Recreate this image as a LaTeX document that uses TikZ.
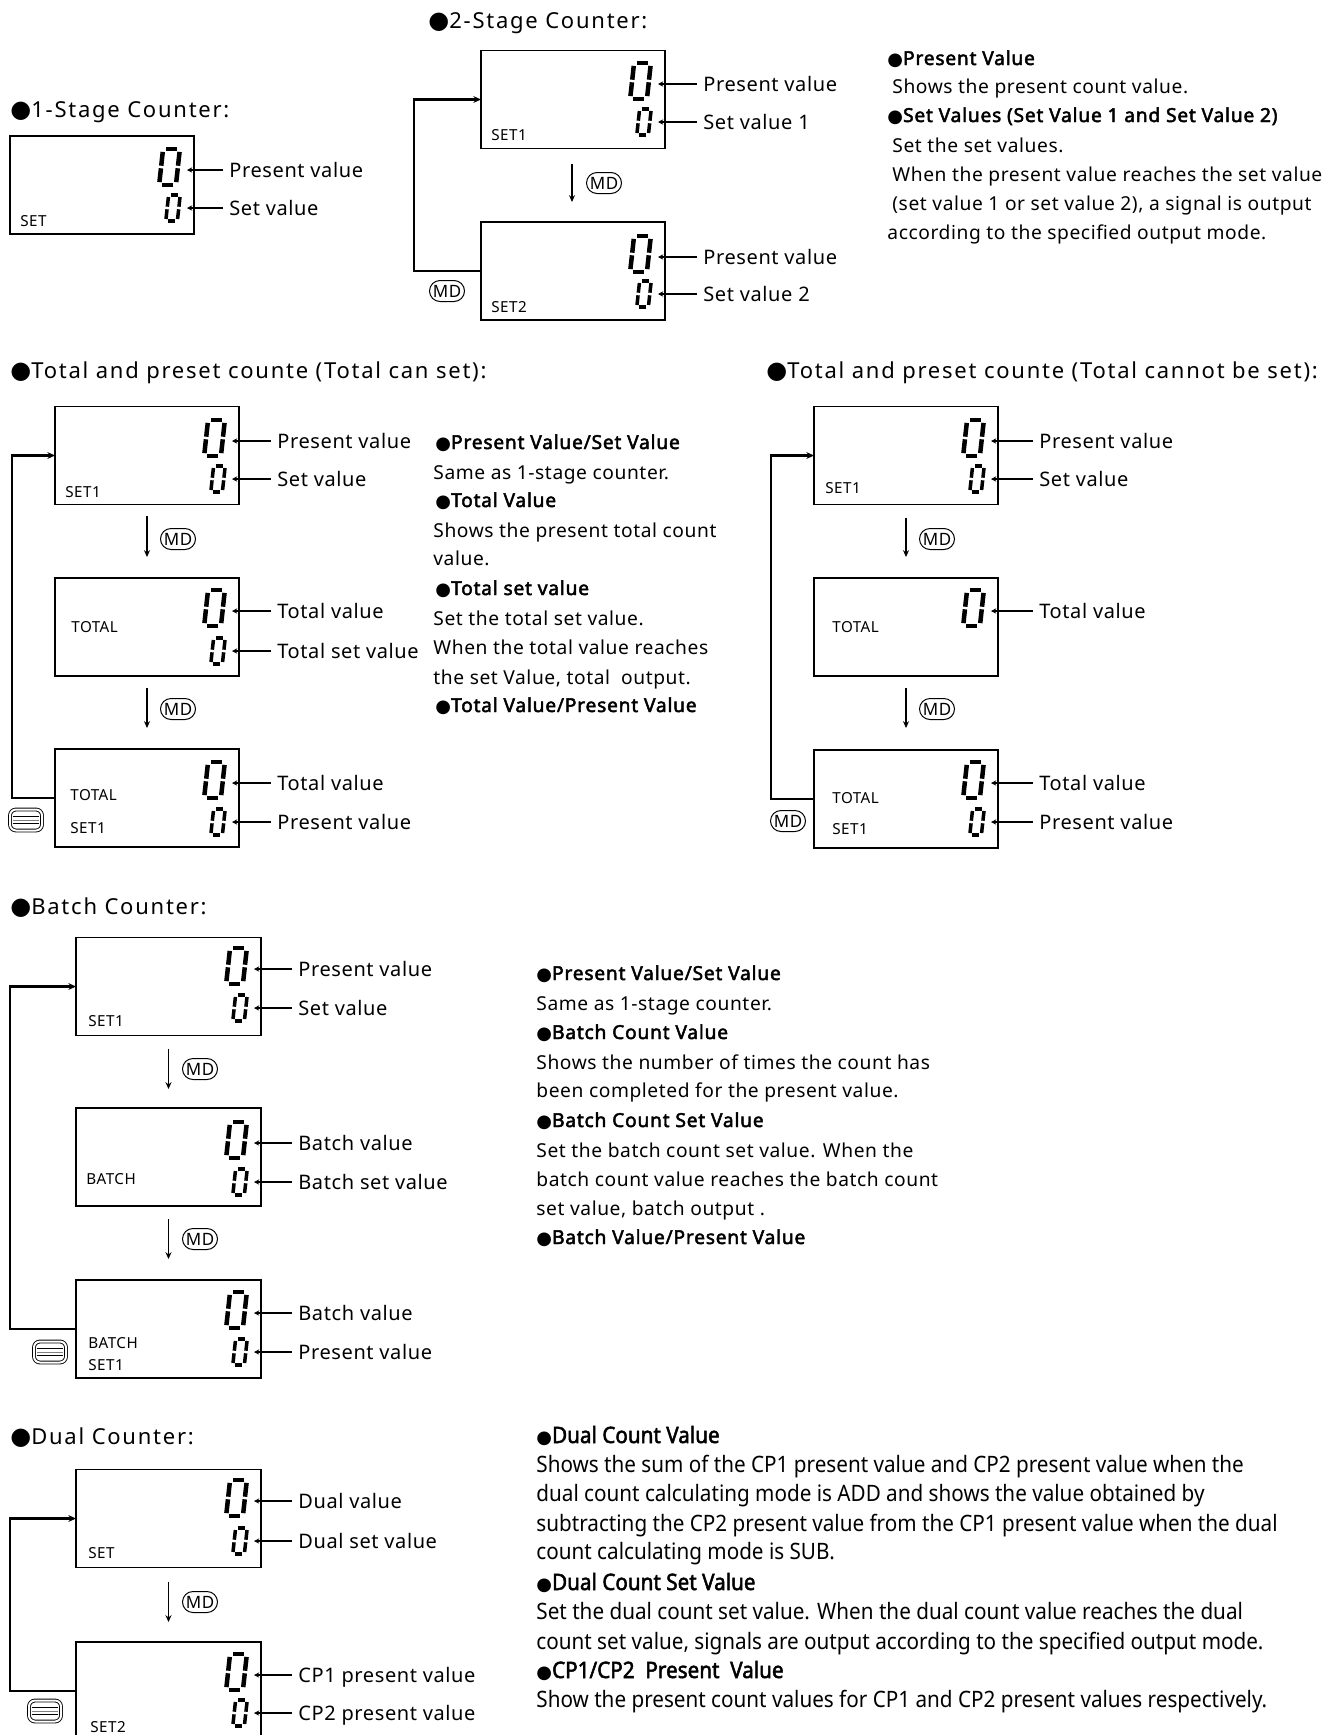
\documentclass[tikz,border=0pt]{standalone}
\usepackage{fontspec}
\setmainfont{Noto Sans}
\newfontfamily\symf{DejaVu Sans}
\newfontfamily\condf{Noto Sans}[FakeStretch=0.915]
\newfontfamily\condbf{Noto Sans}[FakeStretch=0.915,FakeBold=2.2]
\newfontfamily\spacedf{Noto Sans}[LetterSpace=8]
\newfontfamily\lblf{Noto Sans}[LetterSpace=3]
\newfontfamily\parf{Noto Sans}[LetterSpace=3]
\newfontfamily\hdf{Noto Sans}[LetterSpace=4,FakeBold=2.4]
\usetikzlibrary{arrows.meta,calc,shapes.misc}

\newcommand{\tbul}{{\symf\fontsize{12}{12}\selectfont ●}}
\newcommand{\hbul}{{\symf\fontsize{9}{9}\selectfont ●}}

% seven-segment zero: cx, cy, half width, half height, line width, gap
\newcommand{\segzero}[6]{%
  \begin{scope}[shift={(#1,#2)}, xslant=0.11, line width=#5, line cap=butt]
    \draw (-#3+#6,-#4) -- (#3-#6,-#4);
    \draw (-#3+#6,#4) -- (#3-#6,#4);
    \draw (-#3,-#4+#6) -- (-#3,-1.3);
    \draw (-#3,1.3) -- (-#3,#4-#6);
    \draw (#3,-#4+#6) -- (#3,-1.3);
    \draw (#3,1.3) -- (#3,#4-#6);
  \end{scope}}
% name, box right, arrow y, label x, text
\newcommand{\bigval}[5]{%
  \segzero{#2-24.5}{#3-3}{8.4}{17.8}{2.25pt}{2.7}
  \coordinate (#1d) at (#2-7,#3);
  \node[lbl] (#1) at (#4,#3) {#5};
  \draw[larr] ($(#1.west)+(-6,0)$) -- (#1d);}
\newcommand{\smallval}[5]{%
  \segzero{#2-21}{#3}{5.8}{13.2}{1.75pt}{2.2}
  \coordinate (#1d) at (#2-7,#3);
  \node[lbl] (#1) at (#4,#3) {#5};
  \draw[larr] ($(#1.west)+(-6,0)$) -- (#1d);}
% menu icon: name, cx, cy
\newcommand{\menuicon}[3]{%
  \node[menuic] (#1) at (#2,#3) {};
  \draw[line width=0.5pt] ($(#1.west)+(3,-3.5)$) -- ($(#1.east)+(-3,-3.5)$);
  \draw[line width=0.5pt, gray] ($(#1.west)+(3,0.5)$) -- ($(#1.east)+(-3,0.5)$);
  \draw[line width=0.5pt] ($(#1.west)+(3,3.5)$) -- ($(#1.east)+(-3,3.5)$);}

\begin{document}
\begin{tikzpicture}[x=0.5pt,y=-0.5pt,
  box/.style={draw, line width=0.85pt, minimum width=92pt, minimum height=49pt, inner sep=0pt, outer sep=0pt},
  lbl/.style={anchor=west, inner sep=0pt, text height=7pt, text depth=0pt, font=\lblf\fontsize{10}{12}\selectfont},
  btxt/.style={anchor=base west, inner sep=0pt, font=\lblf\fontsize{7.6}{9}\selectfont},
  ttl/.style={anchor=west, inner sep=0pt, text height=8pt, text depth=0pt, font=\spacedf\fontsize{11}{13}\selectfont},
  para/.style={anchor=west, inner sep=0pt, text height=7pt, text depth=0pt, font=\parf\fontsize{9.6}{12}\selectfont},
  hd/.style={para, font=\hdf\fontsize{9.6}{12}\selectfont},
  cpara/.style={anchor=west, inner sep=0pt, text height=7pt, text depth=0pt, font=\condf\fontsize{11.3}{13}\selectfont},
  chd/.style={cpara, font=\condbf\fontsize{11.3}{13}\selectfont},
  larr/.style={line width=0.6pt, -{Stealth[length=2.6pt,width=2.6pt]}},
  darr/.style={line width=0.75pt, -{Stealth[length=3.4pt,width=3pt]}},
  looparr/.style={line width=1.2pt, -{Stealth[length=3.8pt,width=3.4pt]}},
  md/.style={draw, rounded rectangle, line width=0.5pt, minimum width=17.5pt, minimum height=10.5pt, inner sep=0pt, font=\lblf\fontsize{8.5}{9}\selectfont},
  menuic/.style={draw, double, double distance=1pt, line width=0.45pt, rounded corners=3pt, minimum width=16pt, minimum height=10.5pt, inner sep=0pt}]
\fill[white] (0,0) rectangle (1341,1735);
\useasboundingbox (0,0) rectangle (1341,1735);

% ---------- 1-stage ----------
\node[ttl] (tA) at (10,109) {\tbul 1-Stage Counter:};
\node[box] (A) at (102,185) {};
\node[btxt] (Aset) at (20,226) {SET};
\bigval{pa1}{194}{170}{229}{Present value}
\smallval{pa2}{194}{208}{229}{Set value}

% ---------- 2-stage ----------
\node[ttl] (tB) at (428,20) {\tbul 2-Stage Counter:};
\node[box] (B1) at (573,99.5) {};
\node[btxt] (B1t) at (491,140) {SET1};
\bigval{pb1}{665}{84}{703}{Present value}
\smallval{pb2}{665}{122}{703}{Set value 1}
\node[box] (B2) at (573,271) {};
\node[btxt] (B2t) at (491,312) {SET2};
\bigval{pb3}{665}{257}{703}{Present value}
\smallval{pb4}{665}{294}{703}{Set value 2}
\draw[darr] ($(B1.south)+(-1,15)$) -- ($(B2.north)+(-1,-20)$);
\node[md] (mdB1) at (604,183) {MD};
\draw[looparr] (B2.west) -- ++(-67,0) |- (B1.west);
\node[md] (mdB2) at (447,291) {MD};

\node[hd] (db1) at (887,58) {\hbul Present Value};
\node[para] (db2) at (892,86) {Shows the present count value.};
\node[hd] (db3) at (887,115) {\hbul Set Values (Set Value 1 and Set Value 2)};
\node[para] (db4) at (892,145) {Set the set values.};
\node[para] (db5) at (892,174) {When the present value reaches the set value};
\node[para] (db6) at (892,203) {(set value 1 or set value 2), a signal is output};
\node[para] (db7) at (887,232) {according to the specified output mode.};

% ---------- Total can set ----------
\node[ttl] (tC) at (10,370) {\tbul Total and preset counte (Total can set):};
\node[box] (C1) at (147,455.5) {};
\node[btxt] (C1t) at (65,497) {SET1};
\bigval{pc1}{239}{441}{277}{Present value}
\smallval{pc2}{239}{479}{277}{Set value}
\node[box] (C2) at (147,627) {};
\node[btxt] (C2t) at (71,632) {TOTAL};
\bigval{pc3}{239}{611}{277}{Total value}
\smallval{pc4}{239}{651}{277}{Total set value}
\node[box] (C3) at (147,798) {};
\node[btxt] (C3t) at (70,800) {TOTAL};
\node[btxt] (C3u) at (70,833) {SET1};
\bigval{pc5}{239}{783}{277}{Total value}
\smallval{pc6}{239}{822}{277}{Present value}
\draw[darr] ($(C1.south)+(0,11)$) -- ($(C2.north)+(0,-21)$);
\draw[darr] ($(C2.south)+(0,12)$) -- ($(C3.north)+(0,-21)$);
\node[md] (mdC1) at (178,539) {MD};
\node[md] (mdC2) at (178,709) {MD};
\draw[looparr] (C3.west) -- ++(-43,0) |- (C1.west);
\menuicon{icC}{26}{820}

\node[hd] (dc1) at (435,442) {\hbul Present Value/Set Value};
\node[para] (dc2) at (433,472) {Same as 1-stage counter.};
\node[hd] (dc3) at (435,500) {\hbul Total Value};
\node[para] (dc4) at (433,530) {Shows the present total count};
\node[para] (dc5) at (433,558) {value.};
\node[hd] (dc6) at (435,588) {\hbul Total set value};
\node[para] (dc7) at (433,618) {Set the total set value.};
\node[para] (dc8) at (433,647) {When the total value reaches};
\node[para] (dc9) at (433,677) {the set Value, total\ \ output.};
\node[hd] (dc10) at (435,705) {\hbul Total Value/Present Value};

% ---------- Total cannot be set ----------
\node[ttl] (tD) at (766,370) {\tbul Total and preset counte (Total cannot be set):};
\node[box] (D1) at (906,455.5) {};
\node[btxt] (D1t) at (825,493) {SET1};
\bigval{pd1}{998}{441}{1039}{Present value}
\smallval{pd2}{998}{479}{1039}{Set value}
\node[box] (D2) at (906,627) {};
\node[btxt] (D2t) at (832,632) {TOTAL};
\bigval{pd3}{998}{611}{1039}{Total value}
\node[box] (D3) at (906,799) {};
\node[btxt] (D3t) at (832,803) {TOTAL};
\node[btxt] (D3u) at (832,834) {SET1};
\bigval{pd4}{998}{783}{1039}{Total value}
\smallval{pd5}{998}{822}{1039}{Present value}
\draw[darr] ($(D1.south)+(0,13)$) -- ($(D2.north)+(0,-21)$);
\draw[darr] ($(D2.south)+(0,12)$) -- ($(D3.north)+(0,-22)$);
\node[md] (mdD1) at (937,539) {MD};
\node[md] (mdD2) at (937,709) {MD};
\draw[looparr] (D3.west) -- ++(-43,0) |- (D1.west);
\node[md] (mdD3) at (788,821) {MD};

% ---------- Batch ----------
\node[ttl] (tE) at (10,906) {\tbul Batch Counter:};
\node[box, minimum width=92.5pt] (E1) at (168.5,986.5) {};
\node[btxt] (E1t) at (88,1026) {SET1};
\bigval{pe1}{261}{969}{298}{Present value}
\smallval{pe2}{261}{1008}{298}{Set value}
\node[box, minimum width=92.5pt] (E2) at (168.5,1157) {};
\node[btxt] (E2t) at (86,1184) {BATCH};
\bigval{pe3}{261}{1143}{298}{Batch value}
\smallval{pe4}{261}{1182}{298}{Batch set value}
\node[box, minimum width=92.5pt] (E3) at (168.5,1329) {};
\node[btxt] (E3t) at (88,1348) {BATCH};
\node[btxt] (E3u) at (88,1370) {SET1};
\bigval{pe5}{261}{1313}{298}{Batch value}
\smallval{pe6}{261}{1352}{298}{Present value}
\draw[darr] ($(E1.south)+(0,13)$) -- ($(E2.north)+(0,-19)$);
\draw[darr] ($(E2.south)+(0,13)$) -- ($(E3.north)+(0,-21)$);
\node[md] (mdE1) at (200,1069) {MD};
\node[md] (mdE2) at (200,1239) {MD};
\draw[looparr] (E3.west) -- ++(-66,0) |- (E1.west);
\menuicon{icE}{50}{1352}

\node[hd] (de1) at (536,973) {\hbul Present Value/Set Value};
\node[para] (de2) at (536,1003) {Same as 1-stage counter.};
\node[hd] (de3) at (536,1032) {\hbul Batch Count Value};
\node[para] (de4) at (536,1062) {Shows the number of times the count has};
\node[para] (de5) at (536,1090) {been completed for the present value.};
\node[hd] (de6) at (536,1120) {\hbul Batch Count Set Value};
\node[para] (de7) at (536,1150) {Set the batch count set value. When the};
\node[para] (de8) at (536,1179) {batch count value reaches the batch count};
\node[para] (de9) at (536,1208) {set value, batch output .};
\node[hd] (de10) at (536,1237) {\hbul Batch Value/Present Value};

% ---------- Dual ----------
\node[ttl] (tF) at (10,1436) {\tbul Dual Counter:};
\node[box, minimum width=92.5pt] (F1) at (168.5,1518.5) {};
\node[btxt] (F1t) at (88,1558) {SET};
\bigval{pf1}{261}{1501}{298}{Dual value}
\smallval{pf2}{261}{1541}{298}{Dual set value}
\node[box, minimum width=92.5pt] (F2) at (168.5,1691) {};
\node[btxt] (F2t) at (90,1732) {SET2};
\bigval{pf3}{261}{1675}{298}{CP1 present value}
\smallval{pf4}{261}{1713}{298}{CP2 present value}
\draw[darr] ($(F1.south)+(0,14)$) -- ($(F2.north)+(0,-20)$);
\node[md] (mdF1) at (200,1602) {MD};
\draw[looparr] (F2.west) -- ++(-66,0) |- (F1.west);
\menuicon{icF}{45}{1711}

\node[chd] (df1) at (536,1436) {\hbul Dual Count Value};
\node[cpara] (df2) at (536,1465) {Shows the sum of the CP1 present value and CP2 present value when the};
\node[cpara] (df3) at (536,1494) {dual count calculating mode is ADD and shows the value obtained by};
\node[cpara] (df4) at (536,1524) {subtracting the CP2 present value from the CP1 present value when the dual};
\node[cpara] (df5) at (536,1552) {count calculating mode is SUB.};
\node[chd] (df6) at (536,1583) {\hbul Dual Count Set Value};
\node[cpara] (df7) at (536,1612) {Set the dual count set value. When the dual count value reaches the dual};
\node[cpara] (df8) at (536,1642) {count set value, signals are output according to the specified output mode.};
\node[chd] (df9) at (536,1671) {\hbul CP1/CP2\ \ Present\ \ Value};
\node[cpara] (df10) at (536,1700) {Show the present count values for CP1 and CP2 present values respectively.};
\end{tikzpicture}
\end{document}
